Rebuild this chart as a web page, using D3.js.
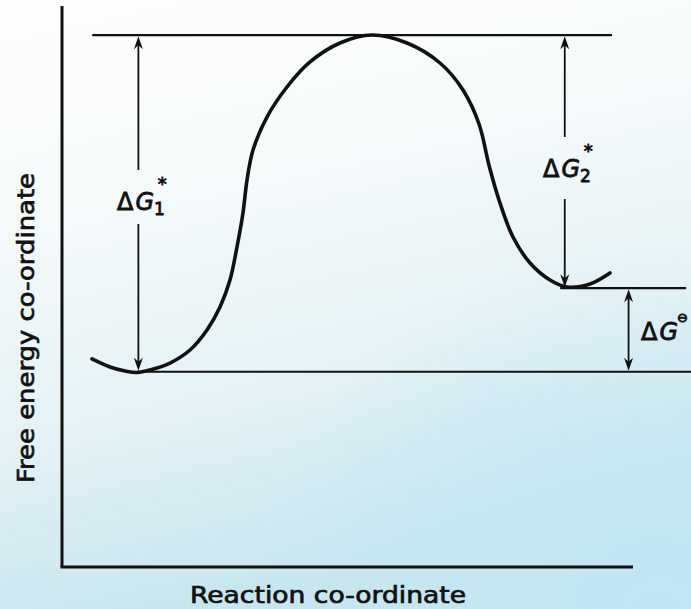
<!DOCTYPE html>
<html>
<head>
<meta charset="utf-8">
<script src="https://cdn.jsdelivr.net/npm/d3@7"></script>
<style>
html,body{margin:0;padding:0;background:#fff;}
svg{display:block;}
</style>
</head>
<body>
<svg id="chart" width="691" height="609"></svg>
<script>
// ---- data (reaction coordinate 0..100, free energy 0..100 arbitrary units) ----
const xAxisTitle = "Reaction co-ordinate";
const yAxisTitle = "Free energy co-ordinate";

// free-energy profile
const profileX = [5.26, 8.42, 11.05, 13.16, 15.44, 18.95, 22.46, 25.44, 27.72, 29.47, 30.70, 31.75, 32.46, 33.51, 35.96, 39.47, 43.51, 48.77, 54.39, 60.53, 66.32, 70.35, 73.16, 74.99, 76.84, 79.12, 82.11, 85.61, 88.60, 92.63, 96.14];
const profileE = [37.08, 35.65, 34.94, 34.67, 35.12, 36.36, 38.68, 42.25, 46.35, 51.16, 57.04, 63.10, 68.98, 74.33, 80.21, 85.56, 90.02, 93.40, 94.83, 93.40, 89.84, 85.03, 78.97, 71.30, 64.88, 58.82, 54.19, 51.16, 49.91, 50.45, 52.41];

// horizontal reference levels
const levelNames = ["transition", "reactant", "product"];
const levelE     = [94.8, 34.8, 49.7];
const levelX0    = [5.3, 13.2, 87.4];
const levelX1    = [96.5, 110.5, 109.5];

// double-headed arrows: label parts, position, energy span
const arrowLabel = ["ΔG", "ΔG", "ΔG"];
const arrowSub   = ["1", "2", ""];
const arrowSup   = ["*", "*", "⊖"];
const arrowX     = [13.4, 88.2, 99.4];
const arrowFrom  = [34.8, 49.7, 34.8];
const arrowTo    = [94.8, 94.8, 49.7];

// ---- layout ----
const W = 691, H = 609;
const svg = d3.select("#chart");
const x = d3.scaleLinear().domain([0, 100]).range([62, 632]);
const y = d3.scaleLinear().domain([0, 100]).range([567, 6]);

// background (scanned paper with bluish tint)
const defs = svg.append("defs");
const g1 = defs.append("linearGradient").attr("id", "bg").attr("x1", 0).attr("y1", 0).attr("x2", 0.25).attr("y2", 1);
g1.append("stop").attr("offset", 0).attr("stop-color", "#fdfefe");
g1.append("stop").attr("offset", 0.35).attr("stop-color", "#f6fafb");
g1.append("stop").attr("offset", 0.7).attr("stop-color", "#e3f1f5");
g1.append("stop").attr("offset", 1).attr("stop-color", "#c8e6ef");
const g2 = defs.append("radialGradient").attr("id", "bg2").attr("cx", 0.95).attr("cy", 1.0).attr("r", 0.6);
g2.append("stop").attr("offset", 0).attr("stop-color", "#bfe6f2").attr("stop-opacity", 0.8);
g2.append("stop").attr("offset", 1).attr("stop-color", "#bfe6f2").attr("stop-opacity", 0);
svg.append("rect").attr("width", W).attr("height", H).attr("fill", "url(#bg)");
svg.append("rect").attr("width", W).attr("height", H).attr("fill", "url(#bg2)");

const ink = "#111";

// axes (plain lines, no ticks)
const xAxis = d3.axisBottom(x).tickValues([]).tickSizeOuter(0);
const yAxis = d3.axisLeft(y).tickValues([]).tickSizeOuter(0);
svg.append("g").attr("transform", `translate(0,${y(0)})`).call(xAxis)
   .call(g => g.select(".domain").attr("stroke", ink).attr("stroke-width", 3.2).attr("d", `M${x(0)-1.5},0H${x(100)+1}`));
svg.append("g").attr("transform", `translate(${x(0)},0)`).call(yAxis)
   .call(g => g.select(".domain").attr("stroke", ink).attr("stroke-width", 3).attr("d", `M0,${y(0)}V${y(100)}`));

// axis titles
svg.append("text").text(xAxisTitle)
   .attr("x", 190).attr("y", 603)
   .attr("textLength", 276).attr("lengthAdjust", "spacingAndGlyphs")
   .attr("font-family", "DejaVu Sans").attr("font-size", 23).attr("fill", ink)
   .attr("stroke", ink).attr("stroke-width", 0.7);
svg.append("text").text(yAxisTitle)
   .attr("transform", "translate(34,483) rotate(-90)")
   .attr("textLength", 310).attr("lengthAdjust", "spacingAndGlyphs")
   .attr("font-family", "DejaVu Sans").attr("font-size", 23).attr("fill", ink)
   .attr("stroke", ink).attr("stroke-width", 0.7);

// levels
svg.append("g").selectAll("line").data(levelE).join("line")
   .attr("x1", (d, i) => x(levelX0[i])).attr("x2", (d, i) => x(levelX1[i]))
   .attr("y1", d => y(d)).attr("y2", d => y(d))
   .attr("stroke", ink).attr("stroke-width", 2.2);

// profile curve
const pts = profileX.map((v, i) => [x(v), y(profileE[i])]);
svg.append("path").datum(pts)
   .attr("d", d3.line().curve(d3.curveCatmullRom.alpha(0.5)))
   .attr("fill", "none").attr("stroke", ink).attr("stroke-width", 3.6)
   .attr("stroke-linecap", "round");

// arrows
function head(gsel, px, py, dir) { // dir = -1 pointing up, +1 pointing down
  const L = 13, w = 4.5, n = 4;
  gsel.append("path")
     .attr("d", `M${px},${py} L${px - w},${py - dir * L} L${px},${py - dir * (L - n)} L${px + w},${py - dir * L} Z`)
     .attr("fill", ink);
}
const labelCenter = [197, 168, null]; // vertical centre of label gaps (px)
const gapHalf = [27, 31, 0];
arrowX.forEach((ax, i) => {
  const g = svg.append("g");
  const px = x(ax), yTop = y(arrowTo[i]) + 1, yBot = y(arrowFrom[i]) - 1;
  if (labelCenter[i] !== null) {
    g.append("line").attr("x1", px).attr("x2", px).attr("y1", yTop + 6).attr("y2", labelCenter[i] - gapHalf[i]).attr("stroke", ink).attr("stroke-width", 1.8);
    g.append("line").attr("x1", px).attr("x2", px).attr("y1", labelCenter[i] + gapHalf[i]).attr("y2", yBot - 6).attr("stroke", ink).attr("stroke-width", 1.8);
  } else {
    g.append("line").attr("x1", px).attr("x2", px).attr("y1", yTop + 6).attr("y2", yBot - 6).attr("stroke", ink).attr("stroke-width", 1.8);
  }
  head(g, px, yTop, -1);
  head(g, px, yBot, 1);
});

// arrow labels
const labelPos = [[117, 210], [543, 177], [641, 340]];
labelPos.forEach((p, i) => {
  const t = svg.append("text").attr("x", p[0]).attr("y", p[1])
     .attr("font-family", "DejaVu Sans").attr("font-size", 24).attr("fill", ink)
     .attr("stroke", ink).attr("stroke-width", 0.8);
  t.append("tspan").text(arrowLabel[i].charAt(0));
  t.append("tspan").text(arrowLabel[i].charAt(1)).attr("font-style", "italic").attr("dx", 2);
  if (arrowSub[i]) t.append("tspan").text(arrowSub[i]).attr("font-size", 17).attr("dy", 5).attr("dx", 0);
  if (arrowSup[i]) {
    const dy = arrowSub[i] ? -25 : -18;
    const dx = arrowSub[i] ? -7 : -1;
    t.append("tspan").text(arrowSup[i]).attr("font-size", arrowSub[i] ? 18 : 13).attr("dy", dy).attr("dx", dx);
  }
});
</script>
</body>
</html>
